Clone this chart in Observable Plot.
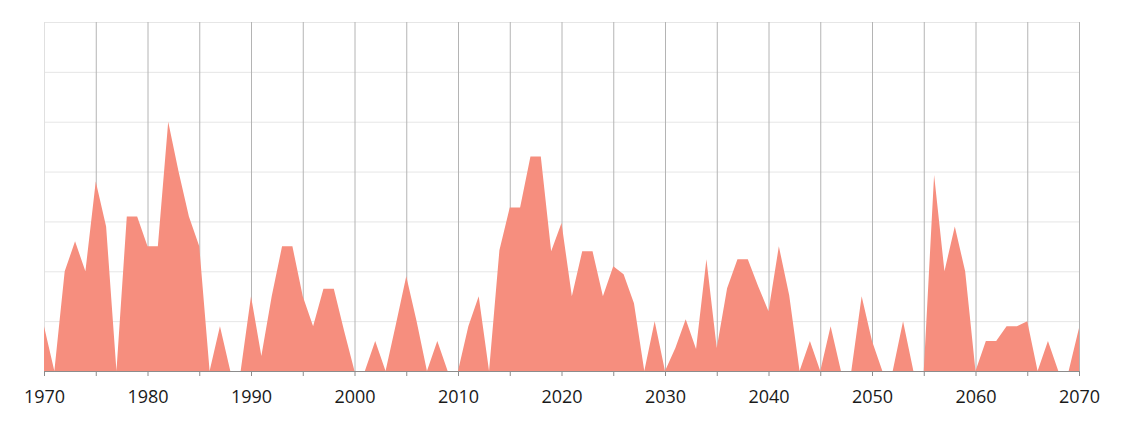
<!DOCTYPE html>
<html>
<head>
<meta charset="utf-8">
<script src="https://cdn.jsdelivr.net/npm/d3@7"></script>
<script src="https://cdn.jsdelivr.net/npm/@observablehq/plot@0.6"></script>
<style>
  html, body { margin: 0; padding: 0; background: #fff; }
  #chart svg { display: block; }
</style>
</head>
<body>
<div id="chart"></div>
<script>
const years = d3.range(1970, 2071);
const values = [
  9, 0, 20, 26, 20, 38, 29, 0, 31, 31,          // 1970-1979
  25, 25, 50, 40, 31, 25, 0, 9, 0, 0,           // 1980-1989
  15, 3, 15, 25, 25, 15, 9, 16.5, 16.5, 8,      // 1990-1999
  0, 0, 6, 0, 9.4, 19, 10, 0, 6, 0,             // 2000-2009
  0, 9, 15, 0, 24.2, 32.8, 32.8, 43, 43, 24,    // 2010-2019
  29.7, 15, 24, 24, 15, 21, 19.4, 13.6, 0, 10,  // 2020-2029
  0, 4.6, 10.4, 4.4, 22.4, 4.6, 16.6, 22.4, 22.4, 17, // 2030-2039
  12, 25, 15.2, 0, 6, 0, 9, 0, 0, 15,           // 2040-2049
  6, 0, 0, 10, 0, 0, 39.3, 20, 29, 20,          // 2050-2059
  0, 6, 6, 9, 9, 10, 0, 6, 0, 0,                // 2060-2069
  8.6                                           // 2070
];
const yGridTicks = [0, 10, 20, 30, 40, 50, 60, 70];
const xGridTicks = d3.range(1970, 2071, 5);
const xLabelTicks = d3.range(1970, 2071, 10);

const data = years.map((y, i) => ({year: y, value: values[i]}));

const chart = Plot.plot({
  width: 1124,
  height: 423,
  marginLeft: 44,
  marginRight: 45,
  marginTop: 22,
  marginBottom: 52,
  style: {fontFamily: "'Open Sans', sans-serif", fontSize: "18px", color: "#222", background: "#fff"},
  x: {domain: [1970, 2070], label: null},
  y: {domain: [0, 70], label: null},
  marks: [
    Plot.ruleY(yGridTicks.slice(1), {stroke: "#e6e6e6", strokeWidth: 1}),
    Plot.ruleX([1970], {stroke: "#e0e0e0", strokeWidth: 1}),
    Plot.ruleX(xGridTicks.slice(1), {stroke: "#b4b4b4", strokeWidth: 1}),
    Plot.areaY(data, {x: "year", y: "value", fill: "#f68e7e", curve: "linear"}),
    Plot.ruleY([0], {stroke: "#8c8c8c", strokeWidth: 1}),
    Plot.axisX({
      ticks: xGridTicks,
      tickSize: 5,
      tickPadding: 14,
      stroke: "#8c8c8c",
      label: null,
      tickFormat: d => xLabelTicks.includes(d) ? String(d) : "",
      fontSize: 18,
      fill: "#1a1a1a"
    }),
    Plot.axisY({ticks: [], label: null})
  ]
});
document.getElementById("chart").appendChild(chart);
</script>
</body>
</html>
